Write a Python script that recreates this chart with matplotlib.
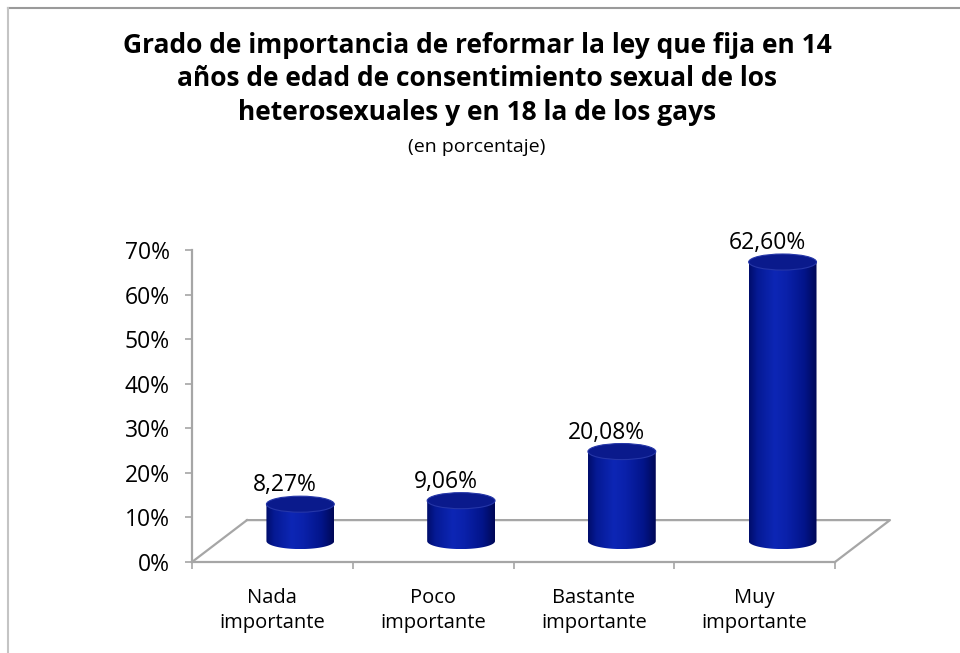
import numpy as np
import matplotlib.pyplot as plt
from matplotlib.patches import Ellipse, Polygon
from matplotlib.lines import Line2D
from matplotlib.colors import LinearSegmentedColormap

plt.rcParams['font.family'] = ['Open Sans', 'DejaVu Sans']

# datos
categorias = ['Nada\nimportante', 'Poco\nimportante', 'Bastante\nimportante', 'Muy\nimportante']
valores = [8.27, 9.06, 20.08, 62.60]
ticks_y = [0, 10, 20, 30, 40, 50, 60, 70]
titulo = ('Grado de importancia de reformar la ley que fija en 14\n'
          'años de edad de consentimiento sexual de los\n'
          'heterosexuales y en 18 la de los gays')
subtitulo = '(en porcentaje)'

W, H = 960, 653
fig = plt.figure(figsize=(W / 100, H / 100), dpi=100)
fig.patch.set_facecolor('white')

# ejes: x de -0.5 a 3.5 (px 192..835), y de 0 a 70 (px 562..250)
ax = fig.add_axes([192 / W, 1 - 562 / H, (835 - 192) / W, (562 - 250) / H])
ax.set_xlim(-0.5, 3.5)
ax.set_ylim(0, 70)
ax.set_facecolor('none')

gris = '#a6a6a6'
# profundidad del "suelo" 3D
dx, dy = 0.342, 9.4
ox, oy = 0.174, 4.7      # centro de la base de los cilindros
w, h = 0.211, 1.8        # semiancho y semialto de la elipse

# suelo
suelo_x = [-0.5 + dx, 3.5 + dx, 3.5]
suelo_y = [dy, dy, 0]
ax.plot([-0.5, -0.5 + dx], [0, dy], color=gris, lw=1.6, clip_on=False, zorder=1)
ax.plot(suelo_x, suelo_y, color=gris, lw=1.6, clip_on=False, zorder=1)

cmap = LinearSegmentedColormap.from_list('cil', [
    (0.0, (0.00, 0.05, 0.42)),
    (0.12, (0.02, 0.10, 0.58)),
    (0.38, (0.05, 0.15, 0.71)),
    (0.55, (0.04, 0.13, 0.67)),
    (0.82, (0.01, 0.08, 0.54)),
    (1.0, (0.00, 0.03, 0.34)),
])
grad = np.linspace(0, 1, 200).reshape(1, -1)

for i, v in enumerate(valores):
    cx = i + ox
    base = oy
    top = oy + v
    t = np.linspace(np.pi, 2 * np.pi, 60)
    bx = cx + w * np.cos(t)
    by = base + h * np.sin(t)
    px = np.concatenate([[cx - w], bx, [cx + w, cx - w]])
    py = np.concatenate([[top], by, [top, top]])
    cuerpo = Polygon(np.column_stack([px, py]), closed=True, facecolor='none',
                     edgecolor='none', transform=ax.transData)
    ax.add_patch(cuerpo)
    im = ax.imshow(grad, cmap=cmap, aspect='auto', extent=(cx - w, cx + w, base - h, top),
                   zorder=3, interpolation='bilinear')
    im.set_clip_path(cuerpo)
    tapa = Ellipse((cx, top), 2 * w, 2 * h, facecolor='#0a1a8c', edgecolor='#2536a8',
                   lw=0.8, zorder=4)
    ax.add_patch(tapa)
    ax.text(i + 0.08, top + 4.2, f'{v:.2f}%'.replace('.', ','), ha='center', va='center',
            fontsize=16.5, color='black', zorder=5)

ax.set_xlim(-0.5, 3.5)
ax.set_ylim(0, 70)

# ejes
for s in ['top', 'right']:
    ax.spines[s].set_visible(False)
ax.spines['left'].set_color(gris)
ax.spines['bottom'].set_color(gris)
ax.spines['left'].set_linewidth(1.6)
ax.spines['bottom'].set_linewidth(1.6)

ax.set_yticks(ticks_y)
ax.set_yticklabels([f'{t}%' for t in ticks_y], fontsize=16.5)
ax.tick_params(axis='y', length=5, width=1.2, color=gris, pad=11)

ax.set_xticks([-0.5, 0.5, 1.5, 2.5, 3.5])
ax.set_xticklabels([])
ax.set_xticks(range(len(categorias)), minor=True)
ax.set_xticklabels(categorias, minor=True, fontsize=14.5, linespacing=1.32)
ax.tick_params(axis='x', which='minor', length=0, pad=19)
ax.tick_params(axis='x', which='major', length=5, width=1.2, color=gris)

# titulo
fig.text(0.497, 1 - 79 / H, titulo, ha='center', va='center', fontsize=19,
         fontweight='bold', linespacing=1.3)
fig.text(0.497, 1 - 147 / H, subtitulo, ha='center', va='center', fontsize=14)

# borde del grafico
fig.add_artist(Line2D([8 / W, 1], [1 - 8 / H, 1 - 8 / H], color='#9a9a9a', lw=1.5))
fig.add_artist(Line2D([8 / W, 8 / W], [0, 1 - 8 / H], color='#c4c4c4', lw=1.5))

fig.savefig('out.png', dpi=100)
